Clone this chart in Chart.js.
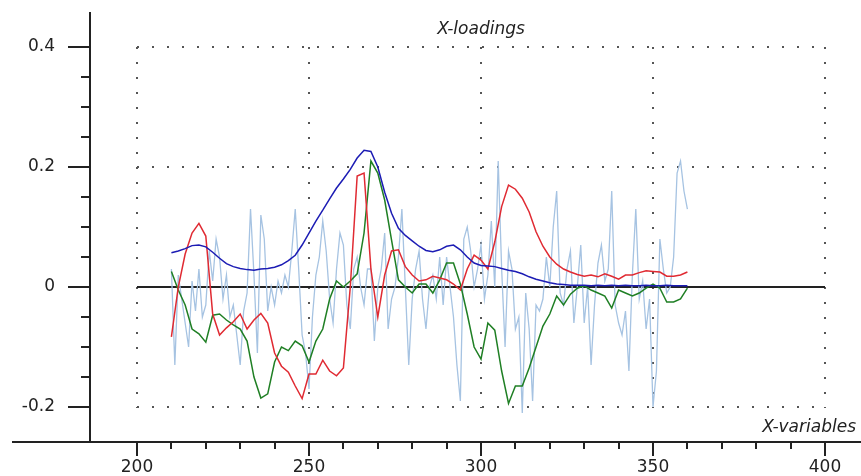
<!DOCTYPE html>
<html>
<head>
<meta charset="utf-8">
<script src="https://cdn.jsdelivr.net/npm/chart.js@4.4.1/dist/chart.umd.min.js"></script>
<style>
  html, body { margin: 0; padding: 0; background: #fff; }
  #box { width: 861px; height: 476px; position: relative; }
</style>
</head>
<body>
<div id="box"><canvas id="chart"></canvas></div>
<script>
// x-variables: smooth loadings every 2, noisy one every 1, starting at 210
var xStart = 210;
var xStepSmooth = 2;
var xStepNoise = 1;

var xTicks = [200, 250, 300, 350, 400];
var yTicks = [-0.2, 0, 0.2, 0.4];

var blueLoad = [
    0.057, 0.060, 0.064, 0.069, 0.070, 0.067, 0.058, 0.048, 0.039, 0.034,
    0.031, 0.029, 0.028, 0.030, 0.031, 0.033, 0.037, 0.044, 0.053, 0.070,
    0.090, 0.110, 0.128, 0.147, 0.165, 0.180, 0.196, 0.215, 0.228, 0.226,
    0.200, 0.158, 0.123, 0.098, 0.086, 0.077, 0.068, 0.061, 0.059, 0.062,
    0.068, 0.070, 0.062, 0.050, 0.040, 0.036, 0.035, 0.034, 0.031, 0.028,
    0.026, 0.022, 0.017, 0.013, 0.010, 0.007, 0.005, 0.004, 0.003, 0.003,
    0.003, 0.002, 0.003, 0.002, 0.003, 0.002, 0.003, 0.002, 0.002, 0.003,
    0.002, 0.002, 0.003, 0.002, 0.002, 0.002
];

var redLoad = [
    -0.083, 0.000, 0.055, 0.090, 0.106, 0.085, -0.045, -0.080, -0.068, -0.058,
    -0.045, -0.070, -0.055, -0.044, -0.060, -0.110, -0.132, -0.142, -0.165, -0.186,
    -0.145, -0.145, -0.122, -0.140, -0.148, -0.135, 0.000, 0.185, 0.190, 0.030,
    -0.050, 0.020, 0.060, 0.062, 0.034, 0.020, 0.010, 0.012, 0.018, 0.015,
    0.012, 0.005, -0.005, 0.030, 0.053, 0.045, 0.030, 0.075, 0.134, 0.170,
    0.163, 0.148, 0.125, 0.092, 0.068, 0.050, 0.038, 0.030, 0.025, 0.021,
    0.018, 0.020, 0.017, 0.022, 0.018, 0.013, 0.020, 0.020, 0.024, 0.027,
    0.026, 0.025, 0.018, 0.018, 0.020, 0.025
];

var greenLoad = [
    0.026, -0.005, -0.030, -0.070, -0.078, -0.092, -0.047, -0.045, -0.055, -0.063,
    -0.070, -0.090, -0.150, -0.185, -0.178, -0.125, -0.100, -0.106, -0.090, -0.098,
    -0.125, -0.090, -0.070, -0.020, 0.010, 0.000, 0.010, 0.022, 0.090, 0.210,
    0.190, 0.145, 0.078, 0.012, 0.000, -0.010, 0.005, 0.005, -0.010, 0.012,
    0.040, 0.040, 0.005, -0.045, -0.100, -0.120, -0.060, -0.072, -0.140, -0.194,
    -0.165, -0.165, -0.135, -0.100, -0.065, -0.045, -0.015, -0.030, -0.012, -0.002,
    0.002, -0.005, -0.010, -0.015, -0.035, -0.005, -0.010, -0.015, -0.010, -0.002,
    0.005, -0.002, -0.025, -0.025, -0.020, -0.002
];

var noiseLoad = [
    0.03, -0.13, 0.02, -0.02, -0.06, -0.10, 0.01, -0.04, 0.03, -0.05,
    -0.03, 0.06, 0.01, 0.08, 0.05, -0.02, 0.02, -0.05, -0.03, -0.08,
    -0.13, -0.04, -0.01, 0.13, 0.02, -0.11, 0.12, 0.08, -0.04, 0.00,
    -0.03, 0.01, -0.01, 0.02, 0.00, 0.06, 0.13, 0.03, -0.08, -0.11,
    -0.17, -0.05, 0.02, 0.05, 0.11, 0.06, -0.02, -0.06, 0.03, 0.09,
    0.07, -0.03, -0.07, 0.03, 0.05, 0.00, -0.03, 0.03, 0.03, -0.09,
    0.00, 0.03, 0.09, -0.07, -0.02, 0.00, 0.05, 0.13, 0.00, -0.13,
    -0.02, 0.03, 0.06, -0.02, -0.07, 0.00, 0.02, -0.02, 0.05, -0.03,
    0.05, 0.00, -0.05, -0.13, -0.19, 0.08, 0.10, 0.06, 0.00, 0.03,
    0.07, -0.02, 0.02, 0.11, 0.00, 0.21, 0.03, -0.10, 0.06, 0.03,
    -0.07, -0.05, -0.21, -0.01, -0.07, -0.19, -0.03, -0.04, -0.02, 0.05,
    0.00, 0.10, 0.16, -0.01, -0.03, 0.03, 0.06, -0.06, 0.00, 0.07,
    -0.06, 0.00, -0.13, -0.03, 0.04, 0.07, 0.01, 0.03, 0.16, -0.03,
    -0.06, -0.08, -0.04, -0.14, 0.02, 0.13, -0.02, 0.01, -0.07, -0.02,
    -0.20, -0.14, 0.08, 0.03, -0.01, 0.00, 0.05, 0.19, 0.21, 0.16,
    0.13
];

function toPoints(values, step) {
    var pts = [];
    values.forEach(function (v, i) {
        pts.push({ x: xStart + i * step, y: v });
    });
    return pts;
}

var fontName = "'DejaVu Sans', sans-serif";

// axes, ticks, dotted grid and labels drawn from the scales
var framePlugin = {
    id: 'frame',
    beforeDatasetsDraw: function (chart) {
        var ctx = chart.ctx;
        var xs = chart.scales.x, ys = chart.scales.y;
        var x0 = xs.getPixelForValue(200), x1 = xs.getPixelForValue(400);
        var yTop = ys.getPixelForValue(0.4), yBot = ys.getPixelForValue(-0.2);
        ctx.save();
        ctx.strokeStyle = '#555';
        ctx.lineWidth = 2;
        ctx.setLineDash([2, 13]);
        [0.4, 0.2, -0.2].forEach(function (v) {
            var y = Math.round(ys.getPixelForValue(v));
            ctx.beginPath();
            ctx.moveTo(x0, y);
            ctx.lineTo(x1 + 1, y);
            ctx.stroke();
        });
        xTicks.forEach(function (v) {
            var x = Math.round(xs.getPixelForValue(v));
            ctx.beginPath();
            ctx.moveTo(x, yTop);
            ctx.lineTo(x, yBot + 1);
            ctx.stroke();
        });
        ctx.setLineDash([]);
        // zero line
        ctx.strokeStyle = '#222';
        ctx.lineWidth = 2;
        var yz = Math.round(ys.getPixelForValue(0));
        ctx.beginPath();
        ctx.moveTo(x0, yz);
        ctx.lineTo(x1, yz);
        ctx.stroke();
        ctx.restore();
    },
    afterDraw: function (chart) {
        var ctx = chart.ctx;
        var xs = chart.scales.x, ys = chart.scales.y;
        var area = chart.chartArea;
        ctx.save();
        ctx.strokeStyle = '#222';
        ctx.lineWidth = 2;
        ctx.beginPath();
        ctx.moveTo(area.left, area.top + 2);
        ctx.lineTo(area.left, area.bottom);
        ctx.moveTo(12, area.bottom);
        ctx.lineTo(chart.width, area.bottom);
        ctx.stroke();
        // y ticks every 0.05
        for (var v = -0.2; v <= 0.4001; v += 0.05) {
            var y = Math.round(ys.getPixelForValue(v));
            var major = Math.abs(Math.round(v * 100) % 20) === 0;
            ctx.beginPath();
            ctx.moveTo(area.left - (major ? 22 : 9), y);
            ctx.lineTo(area.left, y);
            ctx.stroke();
        }
        // x ticks every 10
        for (var t = 200; t <= 400; t += 10) {
            var x = Math.round(xs.getPixelForValue(t));
            ctx.beginPath();
            ctx.moveTo(x, area.bottom);
            ctx.lineTo(x, area.bottom + (t % 50 === 0 ? 14 : 7));
            ctx.stroke();
        }
        ctx.fillStyle = '#222';
        ctx.font = 'italic 17px ' + fontName;
        ctx.textAlign = 'center';
        ctx.textBaseline = 'alphabetic';
        ctx.fillText('X-loadings', xs.getPixelForValue(300), 34);
        ctx.textAlign = 'right';
        ctx.fillText('X-variables', 856, 432);
        ctx.restore();
    }
};

var ctx = document.getElementById('chart').getContext('2d');
new Chart(ctx, {
    type: 'line',
    data: {
        datasets: [{
            data: toPoints(blueLoad, xStepSmooth),
            borderColor: '#1c1cb4',
            borderWidth: 1.5
        }, {
            data: toPoints(redLoad, xStepSmooth),
            borderColor: '#e02a32',
            borderWidth: 1.5
        }, {
            data: toPoints(greenLoad, xStepSmooth),
            borderColor: '#1f7f24',
            borderWidth: 1.5
        }, {
            data: toPoints(noiseLoad, xStepNoise),
            borderColor: '#a6c3e2',
            borderWidth: 1.3
        }]
    },
    options: {
        responsive: true,
        maintainAspectRatio: false,
        animation: false,
        layout: { padding: { top: 10, left: 0, right: 0, bottom: 0 } },
        elements: {
            point: { radius: 0 },
            line: { tension: 0, fill: false }
        },
        scales: {
            x: {
                type: 'linear',
                min: 186.337,
                max: 410.465,
                grid: { display: false, drawTicks: false },
                border: { display: false },
                afterBuildTicks: function (scale) {
                    scale.ticks = xTicks.map(function (v) { return { value: v }; });
                },
                afterFit: function (scale) {
                    scale.height = 34;
                    scale.paddingLeft = 0;
                    scale.paddingRight = 0;
                },
                ticks: {
                    autoSkip: false,
                    maxRotation: 0,
                    padding: 15,
                    color: '#222',
                    font: { family: fontName, size: 17 },
                    callback: function (v) { return String(v); }
                }
            },
            y: {
                type: 'linear',
                min: -0.2583,
                max: 0.4617,
                grid: { display: false, drawTicks: false },
                border: { display: false },
                afterBuildTicks: function (scale) {
                    scale.ticks = yTicks.map(function (v) { return { value: v }; });
                },
                afterFit: function (scale) {
                    scale.width = 90;
                    scale.paddingTop = 0;
                    scale.paddingBottom = 0;
                },
                ticks: {
                    padding: 35,
                    color: '#222',
                    font: { family: fontName, size: 17 },
                    callback: function (v) { return String(v); }
                }
            }
        },
        plugins: {
            legend: { display: false },
            tooltip: { enabled: false },
            title: { display: false }
        }
    },
    plugins: [framePlugin]
});
</script>
</body>
</html>
